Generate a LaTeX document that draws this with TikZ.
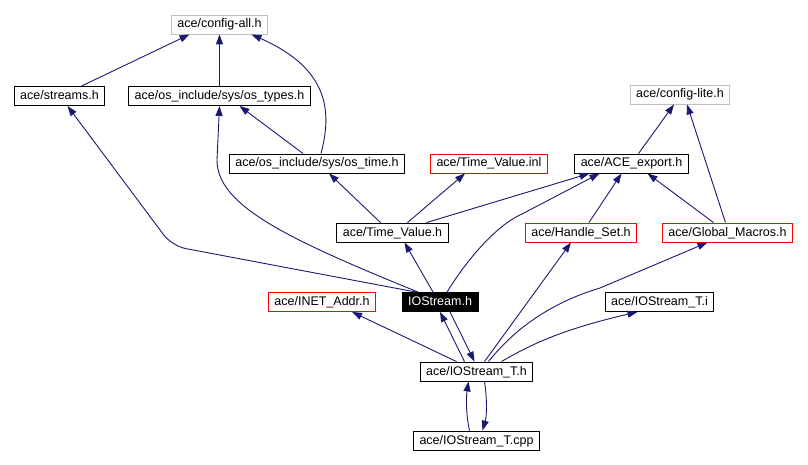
\documentclass[tikz,border=0pt]{standalone}
\usepackage{fontspec}
\setmainfont{Liberation Sans}
\usetikzlibrary{arrows.meta}
\definecolor{edgeblue}{RGB}{25,25,112}
\definecolor{boxgray}{RGB}{191,191,191}
\tikzset{
  hdr/.style={draw=black, rectangle, line width=0.9pt, inner xsep=6pt, inner ysep=0pt,
    minimum height=19pt, font=\fontsize{12.5}{14}\selectfont, text height=9.5pt, text depth=2.5pt},
  grayhdr/.style={hdr, draw=boxgray},
  redhdr/.style={hdr, draw=red},
  curhdr/.style={hdr, fill=black, text=white},
  dep/.style={draw=edgeblue, line width=0.9pt, -{Triangle[length=10pt,width=7pt]}},
}
\begin{document}
\begin{tikzpicture}[x=1pt, y=-1pt]
	\useasboundingbox (0,0) rectangle (808,465);
	% headers
	\node[grayhdr] (configall)   at (219.5,24.5) {ace/config-all.h};
	\node[hdr]     (streams)     at (59.5,96)    {ace/streams.h};
	\node[hdr]     (ostypes)     at (219.5,96)   {ace/os\_include/sys/os\_types.h};
	\node[grayhdr] (configlite)  at (680,94.5)   {ace/config-lite.h};
	\node[hdr]     (ostime)      at (317,163.5)  {ace/os\_include/sys/os\_time.h};
	\node[redhdr]  (tvinl)       at (489,163.5)  {ace/Time\_Value.inl};
	\node[hdr]     (aceexport)   at (631.5,163.5){ace/ACE\_export.h};
	\node[hdr]     (timevalue)   at (392.5,232.5){ace/Time\_Value.h};
	\node[redhdr]  (handleset)   at (581,232.5)  {ace/Handle\_Set.h};
	\node[redhdr]  (globalmacros) at (727.5,232.5){ace/Global\_Macros.h};
	\node[redhdr]  (inetaddr)    at (322,302)    {ace/INET\_Addr.h};
	\node[curhdr]  (iostream)    at (440,302)    {IOStream.h};
	\node[hdr]     (iostreamti)  at (659.5,302)  {ace/IOStream\_T.i};
	\node[hdr]     (iostreamt)   at (476.5,371.5){ace/IOStream\_T.h};
	\node[hdr]     (iostreamtcpp) at (476.5,440.5){ace/IOStream\_T.cpp};
	% includes
	\draw[dep] ([xshift=22pt]streams.north) -- ([xshift=-30pt]configall.south);
	\draw[dep] (ostypes.north) -- (configall.south);
	\draw[dep] ([xshift=4pt]ostime.north) .. controls (331,115) and (332,70) .. ([xshift=32pt]configall.south);
	\draw[dep] ([xshift=-14pt]ostime.north) -- ([xshift=20pt]ostypes.south);
	\draw[dep, rounded corners=14pt] ([xshift=-24pt]iostream.north) -- (172,246) -- ([xshift=8pt]streams.south);
	\draw[dep] ([xshift=-22pt]iostream.north) .. controls (285,238) and (217,205) .. (217,160) -- (ostypes.south);
	\draw[dep] ([xshift=-12pt]timevalue.north) -- ([xshift=12pt]ostime.south);
	\draw[dep] ([xshift=15pt]timevalue.north) -- ([xshift=-24pt]tvinl.south);
	\draw[dep] ([xshift=34pt]timevalue.north) -- ([xshift=-42pt]aceexport.south);
	\draw[dep] ([xshift=-7pt]iostream.north) -- ([xshift=12pt]timevalue.south);
	\draw[dep] ([xshift=7pt]iostream.north) .. controls (468,258) and (497,225) .. (522,214) -- ([xshift=-32pt]aceexport.south);
	\draw[dep] ([xshift=8pt]handleset.north) -- ([xshift=-10pt]aceexport.south);
	\draw[dep] ([xshift=-14pt]globalmacros.north) -- ([xshift=16pt]aceexport.south);
	\draw[dep] ([xshift=7pt]aceexport.north) -- ([xshift=-6pt]configlite.south);
	\draw[dep] ([xshift=-2pt]globalmacros.north) -- ([xshift=7pt]configlite.south);
	\draw[dep] ([xshift=-20pt]iostreamt.north) -- ([xshift=30pt]inetaddr.south);
	\draw[dep] ([xshift=-12pt]iostreamt.north) -- (iostream.south);
	\draw[dep] ([xshift=10pt]iostream.south) -- ([xshift=-2pt]iostreamt.north);
	\draw[dep] ([xshift=8pt]iostreamt.north) -- ([xshift=-10pt]handleset.south);
	\draw[dep] ([xshift=12pt]iostreamt.north) .. controls (520,322) and (560,300) .. (600,288) -- ([xshift=-20pt]globalmacros.south);
	\draw[dep] ([xshift=25pt]iostreamt.north) .. controls (530,345) and (560,330) .. ([xshift=-22pt]iostreamti.south);
	\draw[dep] ([xshift=-7pt]iostreamtcpp.north) .. controls (466,415) and (466,398) .. ([xshift=-8pt]iostreamt.south);
	\draw[dep] ([xshift=8pt]iostreamt.south) .. controls (487,398) and (487,415) .. ([xshift=6pt]iostreamtcpp.north);
\end{tikzpicture}
\end{document}
